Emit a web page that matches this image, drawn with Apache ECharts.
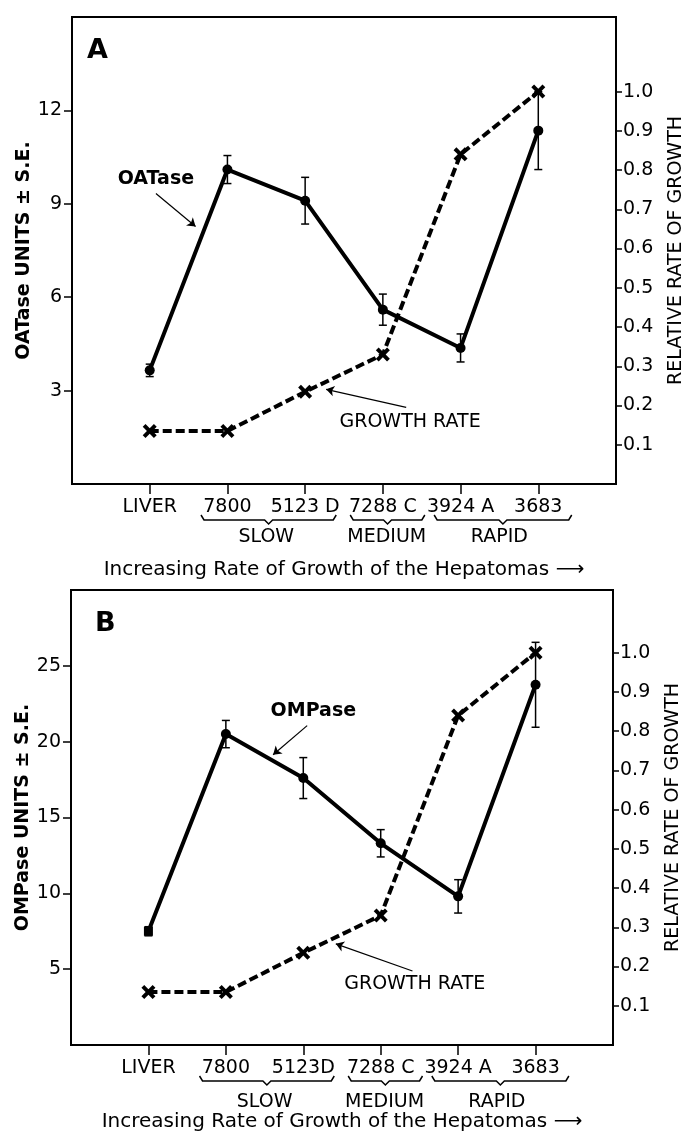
<!DOCTYPE html>
<html>
<head>
<meta charset="utf-8">
<script src="https://cdn.jsdelivr.net/npm/echarts@6/dist/echarts.min.js"></script>
<style>
  html, body { margin: 0; padding: 0; background: #fff; }
  #main { width: 686px; height: 1132px; }
</style>
</head>
<body>
<div id="main"></div>
<script>
// tumour lines, left to right along the x axis
const catsA = ['LIVER', '7800', '5123 D', '7288 C', '3924 A', '3683'];
const catsB = ['LIVER', '7800', '5123D', '7288 C', '3924 A', '3683'];
const xPos = [0, 1, 2, 3, 4, 5];
// growth groups under the labels
const groups = ['SLOW', 'MEDIUM', 'RAPID'];
const groupMid = [1.5, 3.05, 4.5];
const groupFrom = [0.66, 2.58, 3.66];
const groupTo = [2.4, 3.54, 5.43];
// enzyme values (left axis) and their S.E.
const oatase = [3.65, 10.1, 9.1, 5.6, 4.37, 11.35];
const oataseSE = [0.2, 0.45, 0.75, 0.5, 0.45, 1.25];
const ompase = [7.5, 20.5, 17.6, 13.3, 9.8, 23.75];
const ompaseSE = [0.3, 0.9, 1.35, 0.9, 1.1, 2.8];
// relative growth rate (right axis)
const growth = [0.135, 0.135, 0.235, 0.33, 0.84, 1.0];
// tick labels
const ticksA = [3, 6, 9, 12];
const ticksB = [5, 10, 15, 20, 25];
const ticksR = [0.1, 0.2, 0.3, 0.4, 0.5, 0.6, 0.7, 0.8, 0.9, 1.0];

const FONT = 'DejaVu Sans';
const BLACK = '#000';
const xMark = 'path://M2,0L5,3L8,0L10,2L7,5L10,8L8,10L5,7L2,10L0,8L3,5L0,2Z';

var chart = echarts.init(document.getElementById('main'));

function errBars(params, api) {
  var x = api.value(0), y = api.value(1), e = api.value(2);
  var top = api.coord([x, y + e]);
  var bot = api.coord([x, y - e]);
  var w = 4;
  var st = { stroke: BLACK, lineWidth: 1.5 };
  return {
    type: 'group',
    children: [
      { type: 'line', shape: { x1: top[0], y1: top[1], x2: bot[0], y2: bot[1] }, style: st },
      { type: 'line', shape: { x1: top[0] - w, y1: top[1], x2: top[0] + w, y2: top[1] }, style: st },
      { type: 'line', shape: { x1: bot[0] - w, y1: bot[1], x2: bot[0] + w, y2: bot[1] }, style: st }
    ]
  };
}

var panels = [
  {
    cats: catsA, enz: oatase, se: oataseSE, yMax: 15, rMax: 1.19, ticks: ticksA,
    yName: 'OATase UNITS \u00B1 S.E.', enzName: 'OATase',
    groupMargin: 44, nameGap: 76, squareFirst: false,
    arrows: [[[0.08, 9.33], [0.59, 8.27]], [[3.30, 2.46], [2.27, 3.04]]],
    notes: [{ at: [0.08, 9.8], text: 'OATase', bold: true }, { at: [3.35, 1.98], text: 'GROWTH RATE', bold: false }]
  },
  {
    cats: catsB, enz: ompase, se: ompaseSE, yMax: 30, rMax: 1.16, ticks: ticksB,
    yName: 'OMPase UNITS \u00B1 S.E.', enzName: 'OMPase',
    groupMargin: 48, nameGap: 67, squareFirst: true,
    arrows: [[[2.05, 21.06], [1.61, 19.14]], [[3.41, 4.88], [2.42, 6.67]]],
    notes: [{ at: [2.13, 22.0], text: 'OMPase', bold: true }, { at: [3.44, 4.03], text: 'GROWTH RATE', bold: false }]
  }
];

var xAxes = [], yAxes = [], series = [];
var labelStyle = { color: BLACK, fontFamily: FONT, fontSize: 19 };

panels.forEach(function (p, i) {
  xAxes.push({
    gridIndex: i, type: 'value', min: -1, max: 6, position: 'bottom',
    axisLine: { onZero: false, lineStyle: { color: BLACK, width: 2 } },
    axisTick: { length: 10, customValues: xPos, lineStyle: { color: BLACK, width: 1.5 } },
    axisLabel: Object.assign({ customValues: xPos, margin: 14, formatter: function (v) { return p.cats[v]; } }, labelStyle),
    splitLine: { show: false }
  });
  xAxes.push({
    gridIndex: i, type: 'value', min: -1, max: 6, position: 'bottom',
    axisLine: { show: false, onZero: false }, axisTick: { show: false }, splitLine: { show: false },
    axisLabel: Object.assign({
      customValues: groupMid, margin: p.groupMargin,
      formatter: function (v) {
        for (var k = 0; k < groupMid.length; k++) if (Math.abs(groupMid[k] - v) < 1e-6) return groups[k];
        return '';
      }
    }, labelStyle),
    name: 'Increasing Rate of Growth of the Hepatomas \u27F6',
    nameLocation: 'middle', nameGap: p.nameGap, nameMoveOverlap: false,
    nameTextStyle: { color: BLACK, fontFamily: FONT, fontSize: 20 }
  });
  yAxes.push({
    gridIndex: i, type: 'value', min: 0, max: p.yMax, position: 'left',
    axisLine: { show: true, onZero: false, lineStyle: { color: BLACK, width: 2 } },
    axisTick: { show: true, length: 8, customValues: p.ticks, lineStyle: { color: BLACK, width: 1.5 } },
    axisLabel: Object.assign({ customValues: p.ticks, margin: 10 }, labelStyle),
    splitLine: { show: false },
    name: p.yName, nameLocation: 'middle', nameGap: 38, nameRotate: 90, nameMoveOverlap: false,
    nameTextStyle: { color: BLACK, fontFamily: FONT, fontSize: 19, fontWeight: 'bold' }
  });
  yAxes.push({
    gridIndex: i, type: 'value', min: 0, max: p.rMax, position: 'right',
    axisLine: { show: true, onZero: false, lineStyle: { color: BLACK, width: 2 } },
    axisTick: { show: true, length: 6, customValues: ticksR, lineStyle: { color: BLACK, width: 1.5 } },
    axisLabel: Object.assign({ customValues: ticksR, margin: 7, formatter: function (v) { return v.toFixed(1); } }, labelStyle),
    splitLine: { show: false },
    name: 'RELATIVE RATE OF GROWTH', nameLocation: 'middle', nameGap: 51, nameRotate: 90, nameMoveOverlap: false,
    nameTextStyle: { color: BLACK, fontFamily: FONT, fontSize: 19 }
  });

  var enzData = xPos.map(function (x, k) {
    var d = { value: [x, p.enz[k]] };
    if (k === 0 && p.squareFirst) { d.symbol = 'rect'; d.symbolSize = 9; }
    return d;
  });

  series.push({
    name: p.enzName, type: 'line', xAxisIndex: 2 * i, yAxisIndex: 2 * i,
    data: enzData, symbol: 'circle', symbolSize: 10, z: 4,
    lineStyle: { color: BLACK, width: 4 }, itemStyle: { color: BLACK },
    markLine: {
      silent: true, symbolSize: 8, label: { show: false },
      lineStyle: { color: BLACK, width: 1.2, type: 'solid' },
      data: p.arrows.map(function (a) {
        return [{ coord: a[0], symbol: 'none' }, { coord: a[1], symbol: 'arrow' }];
      })
    },
    markPoint: {
      silent: true,
      data: p.notes.map(function (n) {
        return {
          coord: n.at, symbol: 'rect', symbolSize: 1, itemStyle: { color: 'rgba(0,0,0,0)' },
          label: {
            show: true, position: 'inside', formatter: n.text, color: BLACK,
            fontFamily: FONT, fontSize: 19, fontWeight: n.bold ? 'bold' : 'normal'
          }
        };
      })
    }
  });
  series.push({
    type: 'custom', xAxisIndex: 2 * i, yAxisIndex: 2 * i, z: 3,
    renderItem: errBars,
    data: xPos.map(function (x, k) { return [x, p.enz[k], p.se[k]]; })
  });
  series.push({
    name: 'GROWTH RATE', type: 'line', xAxisIndex: 2 * i, yAxisIndex: 2 * i + 1,
    data: xPos.map(function (x, k) { return [x, growth[k]]; }),
    symbol: xMark, symbolSize: 14, z: 5,
    lineStyle: { color: BLACK, width: 4, type: [9, 4] }, itemStyle: { color: BLACK }
  });
});

var option = {
  animation: false,
  backgroundColor: '#fff',
  title: [
    { text: 'A', left: 87, top: 37, padding: 0, textStyle: { fontFamily: FONT, fontSize: 27, fontWeight: 'bold', color: BLACK } },
    { text: 'B', left: 95, top: 610, padding: 0, textStyle: { fontFamily: FONT, fontSize: 27, fontWeight: 'bold', color: BLACK } }
  ],
  grid: [
    { left: 72, right: 70, top: 17, height: 467, show: true, borderColor: BLACK, borderWidth: 2, backgroundColor: 'transparent', outerBoundsMode: 'none' },
    { left: 71, right: 73, top: 590, height: 455, show: true, borderColor: BLACK, borderWidth: 2, backgroundColor: 'transparent', outerBoundsMode: 'none' }
  ],
  xAxis: xAxes,
  yAxis: yAxes,
  series: series
};

chart.setOption(option);

// curly brackets under the tumour groups, placed through the x scale
var braces = [];
panels.forEach(function (p, i) {
  var yb = chart.convertToPixel({ yAxisIndex: 2 * i }, 0) + 36;
  groups.forEach(function (g, k) {
    var x0 = chart.convertToPixel({ xAxisIndex: 2 * i }, groupFrom[k]);
    var x1 = chart.convertToPixel({ xAxisIndex: 2 * i }, groupTo[k]);
    var xm = (x0 + x1) / 2;
    braces.push({
      type: 'polyline', silent: true,
      shape: { points: [[x0, yb - 5], [x0 + 3, yb], [xm - 4, yb], [xm, yb + 4], [xm + 4, yb], [x1 - 3, yb], [x1, yb - 5]] },
      style: { stroke: BLACK, lineWidth: 1.5, fill: null }
    });
  });
});
chart.setOption({ graphic: braces });
</script>
</body>
</html>
